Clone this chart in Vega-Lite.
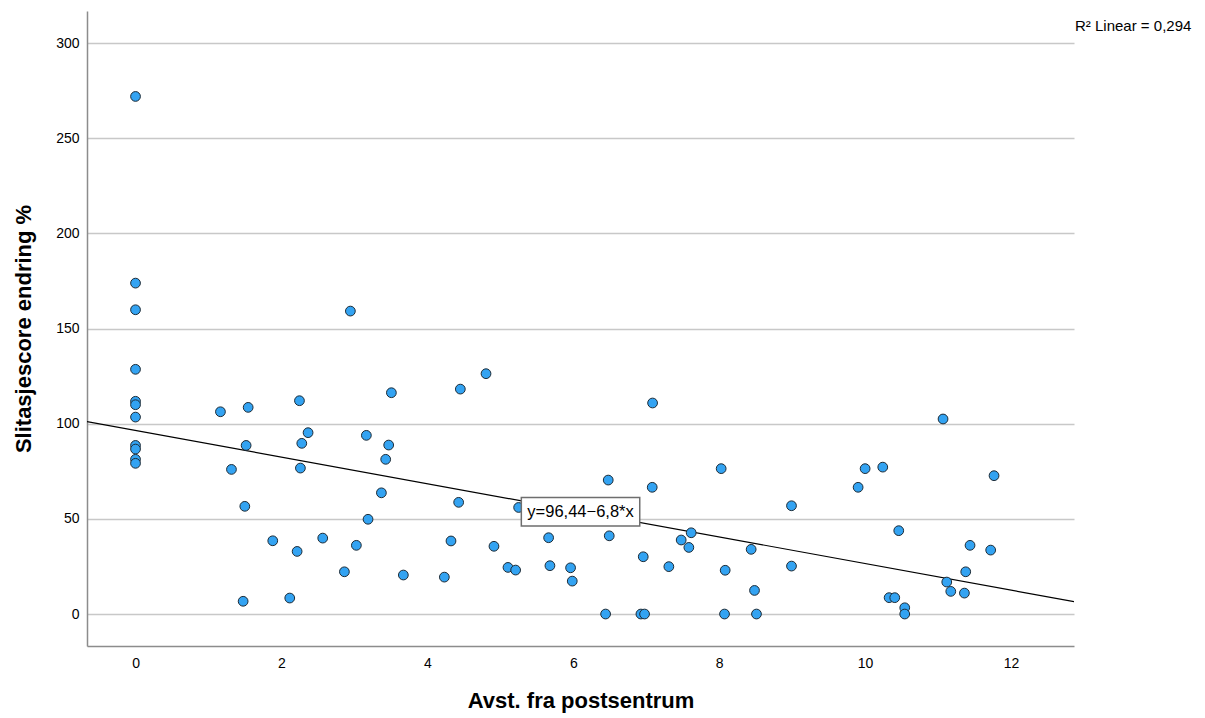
{
  "$schema": "https://vega.github.io/schema/vega-lite/v6.json",
  "autosize": "none",
  "width": 987,
  "height": 635,
  "padding": {"left": 87, "top": 11, "right": 131, "bottom": 72},
  "background": "white",
  "config": {
    "view": {"stroke": null},
    "font": "Liberation Sans",
    "axis": {"labelFont": "Liberation Sans", "titleFont": "Liberation Sans", "labelColor": "#000", "titleColor": "#000"}
  },
  "datasets": {
    "pts": [
      {"x": 0, "y": 272.0}, {"x": 0, "y": 173.9}, {"x": 0, "y": 159.9}, {"x": 0, "y": 128.6},
      {"x": 0, "y": 111.8}, {"x": 0, "y": 110.0}, {"x": 0, "y": 103.5}, {"x": 0, "y": 88.6},
      {"x": 0, "y": 86.7}, {"x": 0, "y": 81.3}, {"x": 0, "y": 79.2},
      {"x": 1.164, "y": 106.3}, {"x": 1.544, "y": 108.6}, {"x": 2.247, "y": 112.1},
      {"x": 3.507, "y": 116.3}, {"x": 4.452, "y": 118.2}, {"x": 4.804, "y": 126.3},
      {"x": 2.365, "y": 95.3}, {"x": 3.164, "y": 93.9}, {"x": 1.516, "y": 88.6},
      {"x": 2.279, "y": 89.7}, {"x": 3.470, "y": 88.8}, {"x": 3.429, "y": 81.3},
      {"x": 1.315, "y": 76.0}, {"x": 2.260, "y": 76.7}, {"x": 3.370, "y": 63.7},
      {"x": 4.429, "y": 58.7}, {"x": 1.498, "y": 56.6}, {"x": 3.187, "y": 49.8},
      {"x": 1.881, "y": 38.5}, {"x": 2.215, "y": 32.9}, {"x": 2.566, "y": 39.9},
      {"x": 3.027, "y": 36.1}, {"x": 4.324, "y": 38.4}, {"x": 4.913, "y": 35.6},
      {"x": 2.863, "y": 22.2}, {"x": 3.671, "y": 20.5}, {"x": 4.233, "y": 19.4},
      {"x": 1.475, "y": 6.7}, {"x": 2.114, "y": 8.4}, {"x": 2.945, "y": 159.2},
      {"x": 7.087, "y": 110.9}, {"x": 6.479, "y": 70.4}, {"x": 7.082, "y": 66.6},
      {"x": 8.027, "y": 76.4}, {"x": 8.991, "y": 56.9}, {"x": 5.251, "y": 56.0},
      {"x": 5.105, "y": 24.5}, {"x": 5.210, "y": 23.1}, {"x": 5.662, "y": 40.1},
      {"x": 5.680, "y": 25.4}, {"x": 5.963, "y": 24.3}, {"x": 5.986, "y": 17.3},
      {"x": 6.493, "y": 41.1}, {"x": 6.959, "y": 30.1}, {"x": 7.310, "y": 24.9},
      {"x": 7.479, "y": 38.9}, {"x": 7.616, "y": 42.7}, {"x": 7.584, "y": 35.0},
      {"x": 8.438, "y": 34.0}, {"x": 8.082, "y": 23.0}, {"x": 8.484, "y": 12.4},
      {"x": 8.991, "y": 25.2}, {"x": 6.443, "y": 0}, {"x": 6.927, "y": 0},
      {"x": 6.977, "y": 0}, {"x": 8.073, "y": 0}, {"x": 8.511, "y": 0},
      {"x": 11.068, "y": 102.5}, {"x": 10.0, "y": 76.4}, {"x": 10.242, "y": 77.2},
      {"x": 9.904, "y": 66.6}, {"x": 11.767, "y": 72.7}, {"x": 10.461, "y": 43.8},
      {"x": 11.438, "y": 36.1}, {"x": 11.721, "y": 33.6}, {"x": 11.379, "y": 22.2},
      {"x": 11.119, "y": 16.8}, {"x": 11.174, "y": 11.9}, {"x": 11.361, "y": 11.0},
      {"x": 10.329, "y": 8.6}, {"x": 10.406, "y": 8.6}, {"x": 10.543, "y": 3.3},
      {"x": 10.543, "y": 0}
    ],
    "fit": [
      {"x": -0.665, "y": 101.1},
      {"x": 12.863, "y": 6.5}
    ],
    "box": [
      {"x1": 5.288, "x2": 6.911, "y1": 46.3, "y2": 61.3, "label": "y=96,44−6,8*x", "xc": 6.1, "yc": 53.6}
    ],
    "note": [
      {"x": 12.863, "y": 306.3, "label": "R² Linear = 0,294"}
    ]
  },
  "layer": [
    {
      "data": {"name": "fit"},
      "mark": {"type": "line", "color": "#000", "strokeWidth": 1.2, "clip": true},
      "encoding": {
        "x": {
          "field": "x", "type": "quantitative",
          "scale": {"domain": [-0.665, 12.863], "nice": false, "zero": false},
          "axis": {
            "values": [0, 2, 4, 6, 8, 10, 12], "format": "d",
            "grid": false, "ticks": false, "domainColor": "#8c8c8c", "domainWidth": 1.5,
            "labelFontSize": 14, "labelPadding": 10,
            "title": "Avst. fra postsentrum", "titleFontSize": 22, "titleFontWeight": "bold", "titlePadding": 20
          }
        },
        "y": {
          "field": "y", "type": "quantitative",
          "scale": {"domain": [-16.8, 316.9], "nice": false, "zero": false},
          "axis": {
            "values": [0, 50, 100, 150, 200, 250, 300], "format": "d",
            "grid": true, "gridColor": "#c8c8c8", "gridWidth": 1.5,
            "ticks": false, "domainColor": "#8c8c8c", "domainWidth": 1.5,
            "labelFontSize": 14, "labelPadding": 8,
            "title": "Slitasjescore endring %", "titleFontSize": 22, "titleFontWeight": "bold", "titlePadding": 20
          }
        }
      }
    },
    {
      "data": {"name": "pts"},
      "mark": {"type": "point", "filled": true, "fill": "#33a3f2", "stroke": "#1d2b36", "strokeWidth": 1, "size": 95, "opacity": 1, "fillOpacity": 1},
      "encoding": {
        "x": {"field": "x", "type": "quantitative"},
        "y": {"field": "y", "type": "quantitative"}
      }
    },
    {
      "data": {"name": "box"},
      "mark": {"type": "rect", "fill": "white", "stroke": "#6e6e6e", "strokeWidth": 1.5},
      "encoding": {
        "x": {"field": "x1", "type": "quantitative"},
        "x2": {"field": "x2"},
        "y": {"field": "y1", "type": "quantitative"},
        "y2": {"field": "y2"}
      }
    },
    {
      "data": {"name": "box"},
      "mark": {"type": "text", "fontSize": 16.5, "font": "Liberation Sans", "color": "#000", "baseline": "middle", "align": "center"},
      "encoding": {
        "x": {"field": "xc", "type": "quantitative"},
        "y": {"field": "yc", "type": "quantitative"},
        "text": {"field": "label"}
      }
    },
    {
      "data": {"name": "note"},
      "mark": {"type": "text", "fontSize": 15, "font": "Liberation Sans", "color": "#000", "align": "left", "baseline": "alphabetic", "dx": 1},
      "encoding": {
        "x": {"field": "x", "type": "quantitative"},
        "y": {"field": "y", "type": "quantitative"},
        "text": {"field": "label"}
      }
    }
  ]
}
